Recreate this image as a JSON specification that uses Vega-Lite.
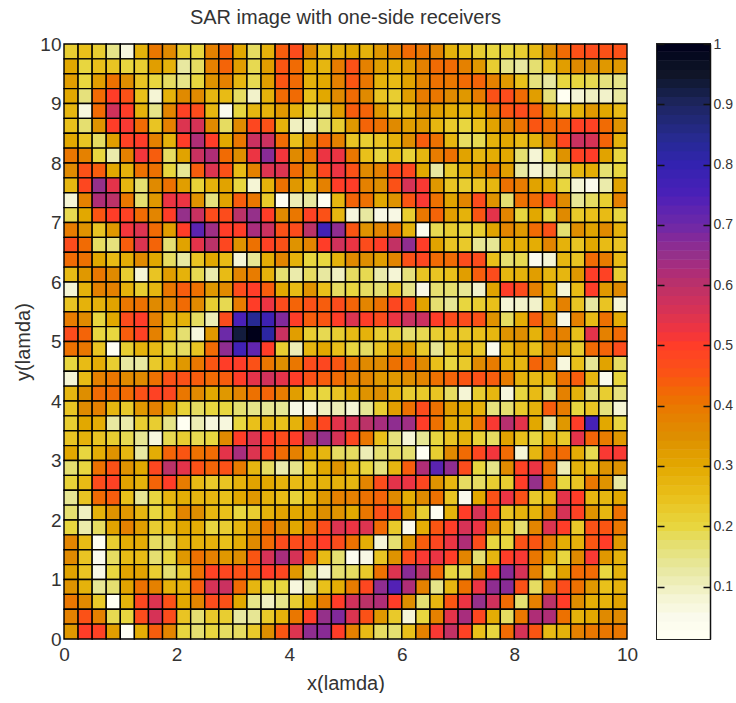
{"$schema":"https://vega.github.io/schema/vega-lite/v6.json","background":"white","padding":{"left":13,"top":8,"right":0,"bottom":0},"spacing":30,"bounds":"flush","config":{"font":"Liberation Sans","view":{"stroke":null},"title":{"font":"Liberation Sans","fontSize":20,"fontWeight":"normal","color":"#333333"}},"hconcat":[{"title":{"text":"SAR image with one-side receivers","offset":7},"width":563,"height":595,"data":{"values":[
{"x":0.125,"y":9.875,"v":0.22},{"x":0.375,"y":9.875,"v":0.25},{"x":0.625,"y":9.875,"v":0.22},{"x":0.875,"y":9.875,"v":0.15},{"x":1.125,"y":9.875,"v":0.07},{"x":1.375,"y":9.875,"v":0.28},{"x":1.625,"y":9.875,"v":0.4},{"x":1.875,"y":9.875,"v":0.36},{"x":2.125,"y":9.875,"v":0.22},{"x":2.375,"y":9.875,"v":0.2},{"x":2.625,"y":9.875,"v":0.38},{"x":2.875,"y":9.875,"v":0.43},{"x":3.125,"y":9.875,"v":0.3},{"x":3.375,"y":9.875,"v":0.18},{"x":3.625,"y":9.875,"v":0.28},{"x":3.875,"y":9.875,"v":0.44},{"x":4.125,"y":9.875,"v":0.47},{"x":4.375,"y":9.875,"v":0.36},{"x":4.625,"y":9.875,"v":0.25},{"x":4.875,"y":9.875,"v":0.28},{"x":5.125,"y":9.875,"v":0.3},{"x":5.375,"y":9.875,"v":0.28},{"x":5.625,"y":9.875,"v":0.33},{"x":5.875,"y":9.875,"v":0.38},{"x":6.125,"y":9.875,"v":0.42},{"x":6.375,"y":9.875,"v":0.4},{"x":6.625,"y":9.875,"v":0.37},{"x":6.875,"y":9.875,"v":0.28},{"x":7.125,"y":9.875,"v":0.25},{"x":7.375,"y":9.875,"v":0.22},{"x":7.625,"y":9.875,"v":0.2},{"x":7.875,"y":9.875,"v":0.2},{"x":8.125,"y":9.875,"v":0.22},{"x":8.375,"y":9.875,"v":0.26},{"x":8.625,"y":9.875,"v":0.35},{"x":8.875,"y":9.875,"v":0.42},{"x":9.125,"y":9.875,"v":0.46},{"x":9.375,"y":9.875,"v":0.47},{"x":9.625,"y":9.875,"v":0.46},{"x":9.875,"y":9.875,"v":0.46},
{"x":0.125,"y":9.625,"v":0.3},{"x":0.375,"y":9.625,"v":0.2},{"x":0.625,"y":9.625,"v":0.25},{"x":0.875,"y":9.625,"v":0.24},{"x":1.125,"y":9.625,"v":0.2},{"x":1.375,"y":9.625,"v":0.22},{"x":1.625,"y":9.625,"v":0.32},{"x":1.875,"y":9.625,"v":0.28},{"x":2.125,"y":9.625,"v":0.13},{"x":2.375,"y":9.625,"v":0.18},{"x":2.625,"y":9.625,"v":0.38},{"x":2.875,"y":9.625,"v":0.43},{"x":3.125,"y":9.625,"v":0.32},{"x":3.375,"y":9.625,"v":0.19},{"x":3.625,"y":9.625,"v":0.32},{"x":3.875,"y":9.625,"v":0.45},{"x":4.125,"y":9.625,"v":0.42},{"x":4.375,"y":9.625,"v":0.3},{"x":4.625,"y":9.625,"v":0.27},{"x":4.875,"y":9.625,"v":0.39},{"x":5.125,"y":9.625,"v":0.46},{"x":5.375,"y":9.625,"v":0.38},{"x":5.625,"y":9.625,"v":0.32},{"x":5.875,"y":9.625,"v":0.28},{"x":6.125,"y":9.625,"v":0.32},{"x":6.375,"y":9.625,"v":0.38},{"x":6.625,"y":9.625,"v":0.42},{"x":6.875,"y":9.625,"v":0.42},{"x":7.125,"y":9.625,"v":0.38},{"x":7.375,"y":9.625,"v":0.33},{"x":7.625,"y":9.625,"v":0.22},{"x":7.875,"y":9.625,"v":0.15},{"x":8.125,"y":9.625,"v":0.13},{"x":8.375,"y":9.625,"v":0.17},{"x":8.625,"y":9.625,"v":0.24},{"x":8.875,"y":9.625,"v":0.32},{"x":9.125,"y":9.625,"v":0.36},{"x":9.375,"y":9.625,"v":0.35},{"x":9.625,"y":9.625,"v":0.33},{"x":9.875,"y":9.625,"v":0.33},
{"x":0.125,"y":9.375,"v":0.32},{"x":0.375,"y":9.375,"v":0.2},{"x":0.625,"y":9.375,"v":0.32},{"x":0.875,"y":9.375,"v":0.41},{"x":1.125,"y":9.375,"v":0.35},{"x":1.375,"y":9.375,"v":0.24},{"x":1.625,"y":9.375,"v":0.2},{"x":1.875,"y":9.375,"v":0.18},{"x":2.125,"y":9.375,"v":0.15},{"x":2.375,"y":9.375,"v":0.2},{"x":2.625,"y":9.375,"v":0.34},{"x":2.875,"y":9.375,"v":0.38},{"x":3.125,"y":9.375,"v":0.27},{"x":3.375,"y":9.375,"v":0.19},{"x":3.625,"y":9.375,"v":0.32},{"x":3.875,"y":9.375,"v":0.45},{"x":4.125,"y":9.375,"v":0.42},{"x":4.375,"y":9.375,"v":0.28},{"x":4.625,"y":9.375,"v":0.3},{"x":4.875,"y":9.375,"v":0.38},{"x":5.125,"y":9.375,"v":0.45},{"x":5.375,"y":9.375,"v":0.4},{"x":5.625,"y":9.375,"v":0.28},{"x":5.875,"y":9.375,"v":0.26},{"x":6.125,"y":9.375,"v":0.31},{"x":6.375,"y":9.375,"v":0.37},{"x":6.625,"y":9.375,"v":0.41},{"x":6.875,"y":9.375,"v":0.4},{"x":7.125,"y":9.375,"v":0.42},{"x":7.375,"y":9.375,"v":0.43},{"x":7.625,"y":9.375,"v":0.38},{"x":7.875,"y":9.375,"v":0.33},{"x":8.125,"y":9.375,"v":0.25},{"x":8.375,"y":9.375,"v":0.16},{"x":8.625,"y":9.375,"v":0.13},{"x":8.875,"y":9.375,"v":0.2},{"x":9.125,"y":9.375,"v":0.2},{"x":9.375,"y":9.375,"v":0.19},{"x":9.625,"y":9.375,"v":0.16},{"x":9.875,"y":9.375,"v":0.15},
{"x":0.125,"y":9.125,"v":0.3},{"x":0.375,"y":9.125,"v":0.16},{"x":0.625,"y":9.125,"v":0.42},{"x":0.875,"y":9.125,"v":0.5},{"x":1.125,"y":9.125,"v":0.46},{"x":1.375,"y":9.125,"v":0.25},{"x":1.625,"y":9.125,"v":0.08},{"x":1.875,"y":9.125,"v":0.28},{"x":2.125,"y":9.125,"v":0.36},{"x":2.375,"y":9.125,"v":0.36},{"x":2.625,"y":9.125,"v":0.27},{"x":2.875,"y":9.125,"v":0.26},{"x":3.125,"y":9.125,"v":0.18},{"x":3.375,"y":9.125,"v":0.09},{"x":3.625,"y":9.125,"v":0.28},{"x":3.875,"y":9.125,"v":0.42},{"x":4.125,"y":9.125,"v":0.42},{"x":4.375,"y":9.125,"v":0.25},{"x":4.625,"y":9.125,"v":0.3},{"x":4.875,"y":9.125,"v":0.36},{"x":5.125,"y":9.125,"v":0.42},{"x":5.375,"y":9.125,"v":0.36},{"x":5.625,"y":9.125,"v":0.24},{"x":5.875,"y":9.125,"v":0.22},{"x":6.125,"y":9.125,"v":0.32},{"x":6.375,"y":9.125,"v":0.39},{"x":6.625,"y":9.125,"v":0.4},{"x":6.875,"y":9.125,"v":0.36},{"x":7.125,"y":9.125,"v":0.33},{"x":7.375,"y":9.125,"v":0.39},{"x":7.625,"y":9.125,"v":0.46},{"x":7.875,"y":9.125,"v":0.47},{"x":8.125,"y":9.125,"v":0.42},{"x":8.375,"y":9.125,"v":0.32},{"x":8.625,"y":9.125,"v":0.16},{"x":8.875,"y":9.125,"v":0.02},{"x":9.125,"y":9.125,"v":0.08},{"x":9.375,"y":9.125,"v":0.1},{"x":9.625,"y":9.125,"v":0.09},{"x":9.875,"y":9.125,"v":0.13},
{"x":0.125,"y":8.875,"v":0.27},{"x":0.375,"y":8.875,"v":0.07},{"x":0.625,"y":8.875,"v":0.42},{"x":0.875,"y":8.875,"v":0.57},{"x":1.125,"y":8.875,"v":0.5},{"x":1.375,"y":8.875,"v":0.28},{"x":1.625,"y":8.875,"v":0.15},{"x":1.875,"y":8.875,"v":0.37},{"x":2.125,"y":8.875,"v":0.49},{"x":2.375,"y":8.875,"v":0.47},{"x":2.625,"y":8.875,"v":0.27},{"x":2.875,"y":8.875,"v":0.05},{"x":3.125,"y":8.875,"v":0.2},{"x":3.375,"y":8.875,"v":0.27},{"x":3.625,"y":8.875,"v":0.28},{"x":3.875,"y":8.875,"v":0.33},{"x":4.125,"y":8.875,"v":0.28},{"x":4.375,"y":8.875,"v":0.2},{"x":4.625,"y":8.875,"v":0.17},{"x":4.875,"y":8.875,"v":0.32},{"x":5.125,"y":8.875,"v":0.44},{"x":5.375,"y":8.875,"v":0.43},{"x":5.625,"y":8.875,"v":0.33},{"x":5.875,"y":8.875,"v":0.22},{"x":6.125,"y":8.875,"v":0.26},{"x":6.375,"y":8.875,"v":0.35},{"x":6.625,"y":8.875,"v":0.32},{"x":6.875,"y":8.875,"v":0.29},{"x":7.125,"y":8.875,"v":0.27},{"x":7.375,"y":8.875,"v":0.3},{"x":7.625,"y":8.875,"v":0.38},{"x":7.875,"y":8.875,"v":0.45},{"x":8.125,"y":8.875,"v":0.47},{"x":8.375,"y":8.875,"v":0.44},{"x":8.625,"y":8.875,"v":0.32},{"x":8.875,"y":8.875,"v":0.24},{"x":9.125,"y":8.875,"v":0.28},{"x":9.375,"y":8.875,"v":0.33},{"x":9.625,"y":8.875,"v":0.3},{"x":9.875,"y":8.875,"v":0.26},
{"x":0.125,"y":8.625,"v":0.25},{"x":0.375,"y":8.625,"v":0.17},{"x":0.625,"y":8.625,"v":0.34},{"x":0.875,"y":8.625,"v":0.5},{"x":1.125,"y":8.625,"v":0.51},{"x":1.375,"y":8.625,"v":0.42},{"x":1.625,"y":8.625,"v":0.24},{"x":1.875,"y":8.625,"v":0.38},{"x":2.125,"y":8.625,"v":0.55},{"x":2.375,"y":8.625,"v":0.56},{"x":2.625,"y":8.625,"v":0.36},{"x":2.875,"y":8.625,"v":0.18},{"x":3.125,"y":8.625,"v":0.36},{"x":3.375,"y":8.625,"v":0.48},{"x":3.625,"y":8.625,"v":0.46},{"x":3.875,"y":8.625,"v":0.28},{"x":4.125,"y":8.625,"v":0.1},{"x":4.375,"y":8.625,"v":0.1},{"x":4.625,"y":8.625,"v":0.17},{"x":4.875,"y":8.625,"v":0.22},{"x":5.125,"y":8.625,"v":0.33},{"x":5.375,"y":8.625,"v":0.43},{"x":5.625,"y":8.625,"v":0.41},{"x":5.875,"y":8.625,"v":0.36},{"x":6.125,"y":8.625,"v":0.32},{"x":6.375,"y":8.625,"v":0.33},{"x":6.625,"y":8.625,"v":0.27},{"x":6.875,"y":8.625,"v":0.23},{"x":7.125,"y":8.625,"v":0.2},{"x":7.375,"y":8.625,"v":0.25},{"x":7.625,"y":8.625,"v":0.31},{"x":7.875,"y":8.625,"v":0.36},{"x":8.125,"y":8.625,"v":0.41},{"x":8.375,"y":8.625,"v":0.45},{"x":8.625,"y":8.625,"v":0.42},{"x":8.875,"y":8.625,"v":0.43},{"x":9.125,"y":8.625,"v":0.49},{"x":9.375,"y":8.625,"v":0.49},{"x":9.625,"y":8.625,"v":0.42},{"x":9.875,"y":8.625,"v":0.34},
{"x":0.125,"y":8.375,"v":0.3},{"x":0.375,"y":8.375,"v":0.24},{"x":0.625,"y":8.375,"v":0.18},{"x":0.875,"y":8.375,"v":0.32},{"x":1.125,"y":8.375,"v":0.49},{"x":1.375,"y":8.375,"v":0.5},{"x":1.625,"y":8.375,"v":0.38},{"x":1.875,"y":8.375,"v":0.28},{"x":2.125,"y":8.375,"v":0.5},{"x":2.375,"y":8.375,"v":0.62},{"x":2.625,"y":8.375,"v":0.5},{"x":2.875,"y":8.375,"v":0.3},{"x":3.125,"y":8.375,"v":0.4},{"x":3.375,"y":8.375,"v":0.58},{"x":3.625,"y":8.375,"v":0.58},{"x":3.875,"y":8.375,"v":0.42},{"x":4.125,"y":8.375,"v":0.25},{"x":4.375,"y":8.375,"v":0.34},{"x":4.625,"y":8.375,"v":0.43},{"x":4.875,"y":8.375,"v":0.38},{"x":5.125,"y":8.375,"v":0.24},{"x":5.375,"y":8.375,"v":0.22},{"x":5.625,"y":8.375,"v":0.24},{"x":5.875,"y":8.375,"v":0.28},{"x":6.125,"y":8.375,"v":0.35},{"x":6.375,"y":8.375,"v":0.44},{"x":6.625,"y":8.375,"v":0.41},{"x":6.875,"y":8.375,"v":0.27},{"x":7.125,"y":8.375,"v":0.18},{"x":7.375,"y":8.375,"v":0.19},{"x":7.625,"y":8.375,"v":0.28},{"x":7.875,"y":8.375,"v":0.3},{"x":8.125,"y":8.375,"v":0.26},{"x":8.375,"y":8.375,"v":0.28},{"x":8.625,"y":8.375,"v":0.36},{"x":8.875,"y":8.375,"v":0.48},{"x":9.125,"y":8.375,"v":0.58},{"x":9.375,"y":8.375,"v":0.56},{"x":9.625,"y":8.375,"v":0.43},{"x":9.875,"y":8.375,"v":0.28},
{"x":0.125,"y":8.125,"v":0.4},{"x":0.375,"y":8.125,"v":0.38},{"x":0.625,"y":8.125,"v":0.2},{"x":0.875,"y":8.125,"v":0.12},{"x":1.125,"y":8.125,"v":0.38},{"x":1.375,"y":8.125,"v":0.52},{"x":1.625,"y":8.125,"v":0.44},{"x":1.875,"y":8.125,"v":0.18},{"x":2.125,"y":8.125,"v":0.31},{"x":2.375,"y":8.125,"v":0.58},{"x":2.625,"y":8.125,"v":0.62},{"x":2.875,"y":8.125,"v":0.42},{"x":3.125,"y":8.125,"v":0.35},{"x":3.375,"y":8.125,"v":0.53},{"x":3.625,"y":8.125,"v":0.67},{"x":3.875,"y":8.125,"v":0.52},{"x":4.125,"y":8.125,"v":0.36},{"x":4.375,"y":8.125,"v":0.4},{"x":4.625,"y":8.125,"v":0.53},{"x":4.875,"y":8.125,"v":0.53},{"x":5.125,"y":8.125,"v":0.4},{"x":5.375,"y":8.125,"v":0.25},{"x":5.625,"y":8.125,"v":0.2},{"x":5.875,"y":8.125,"v":0.25},{"x":6.125,"y":8.125,"v":0.21},{"x":6.375,"y":8.125,"v":0.27},{"x":6.625,"y":8.125,"v":0.39},{"x":6.875,"y":8.125,"v":0.41},{"x":7.125,"y":8.125,"v":0.31},{"x":7.375,"y":8.125,"v":0.27},{"x":7.625,"y":8.125,"v":0.29},{"x":7.875,"y":8.125,"v":0.3},{"x":8.125,"y":8.125,"v":0.17},{"x":8.375,"y":8.125,"v":0.08},{"x":8.625,"y":8.125,"v":0.2},{"x":8.875,"y":8.125,"v":0.34},{"x":9.125,"y":8.125,"v":0.49},{"x":9.375,"y":8.125,"v":0.5},{"x":9.625,"y":8.125,"v":0.31},{"x":9.875,"y":8.125,"v":0.2},
{"x":0.125,"y":7.875,"v":0.36},{"x":0.375,"y":7.875,"v":0.46},{"x":0.625,"y":7.875,"v":0.44},{"x":0.875,"y":7.875,"v":0.3},{"x":1.125,"y":7.875,"v":0.28},{"x":1.375,"y":7.875,"v":0.41},{"x":1.625,"y":7.875,"v":0.41},{"x":1.875,"y":7.875,"v":0.2},{"x":2.125,"y":7.875,"v":0.14},{"x":2.375,"y":7.875,"v":0.44},{"x":2.625,"y":7.875,"v":0.55},{"x":2.875,"y":7.875,"v":0.46},{"x":3.125,"y":7.875,"v":0.26},{"x":3.375,"y":7.875,"v":0.38},{"x":3.625,"y":7.875,"v":0.55},{"x":3.875,"y":7.875,"v":0.55},{"x":4.125,"y":7.875,"v":0.42},{"x":4.375,"y":7.875,"v":0.34},{"x":4.625,"y":7.875,"v":0.48},{"x":4.875,"y":7.875,"v":0.53},{"x":5.125,"y":7.875,"v":0.46},{"x":5.375,"y":7.875,"v":0.36},{"x":5.625,"y":7.875,"v":0.38},{"x":5.875,"y":7.875,"v":0.47},{"x":6.125,"y":7.875,"v":0.48},{"x":6.375,"y":7.875,"v":0.3},{"x":6.625,"y":7.875,"v":0.13},{"x":6.875,"y":7.875,"v":0.23},{"x":7.125,"y":7.875,"v":0.28},{"x":7.375,"y":7.875,"v":0.33},{"x":7.625,"y":7.875,"v":0.39},{"x":7.875,"y":7.875,"v":0.32},{"x":8.125,"y":7.875,"v":0.13},{"x":8.375,"y":7.875,"v":0.08},{"x":8.625,"y":7.875,"v":0.12},{"x":8.875,"y":7.875,"v":0.16},{"x":9.125,"y":7.875,"v":0.27},{"x":9.375,"y":7.875,"v":0.29},{"x":9.625,"y":7.875,"v":0.17},{"x":9.875,"y":7.875,"v":0.2},
{"x":0.125,"y":7.625,"v":0.27},{"x":0.375,"y":7.625,"v":0.48},{"x":0.625,"y":7.625,"v":0.65},{"x":0.875,"y":7.625,"v":0.54},{"x":1.125,"y":7.625,"v":0.27},{"x":1.375,"y":7.625,"v":0.17},{"x":1.625,"y":7.625,"v":0.36},{"x":1.875,"y":7.625,"v":0.41},{"x":2.125,"y":7.625,"v":0.32},{"x":2.375,"y":7.625,"v":0.21},{"x":2.625,"y":7.625,"v":0.28},{"x":2.875,"y":7.625,"v":0.31},{"x":3.125,"y":7.625,"v":0.2},{"x":3.375,"y":7.625,"v":0.08},{"x":3.625,"y":7.625,"v":0.28},{"x":3.875,"y":7.625,"v":0.41},{"x":4.125,"y":7.625,"v":0.33},{"x":4.375,"y":7.625,"v":0.27},{"x":4.625,"y":7.625,"v":0.38},{"x":4.875,"y":7.625,"v":0.5},{"x":5.125,"y":7.625,"v":0.5},{"x":5.375,"y":7.625,"v":0.38},{"x":5.625,"y":7.625,"v":0.35},{"x":5.875,"y":7.625,"v":0.46},{"x":6.125,"y":7.625,"v":0.56},{"x":6.375,"y":7.625,"v":0.51},{"x":6.625,"y":7.625,"v":0.33},{"x":6.875,"y":7.625,"v":0.24},{"x":7.125,"y":7.625,"v":0.22},{"x":7.375,"y":7.625,"v":0.24},{"x":7.625,"y":7.625,"v":0.27},{"x":7.875,"y":7.625,"v":0.41},{"x":8.125,"y":7.625,"v":0.39},{"x":8.375,"y":7.625,"v":0.31},{"x":8.625,"y":7.625,"v":0.29},{"x":8.875,"y":7.625,"v":0.2},{"x":9.125,"y":7.625,"v":0.08},{"x":9.375,"y":7.625,"v":0.05},{"x":9.625,"y":7.625,"v":0.12},{"x":9.875,"y":7.625,"v":0.31},
{"x":0.125,"y":7.375,"v":0.08},{"x":0.375,"y":7.375,"v":0.38},{"x":0.625,"y":7.375,"v":0.62},{"x":0.875,"y":7.375,"v":0.6},{"x":1.125,"y":7.375,"v":0.4},{"x":1.375,"y":7.375,"v":0.17},{"x":1.625,"y":7.375,"v":0.33},{"x":1.875,"y":7.375,"v":0.53},{"x":2.125,"y":7.375,"v":0.53},{"x":2.375,"y":7.375,"v":0.34},{"x":2.625,"y":7.375,"v":0.16},{"x":2.875,"y":7.375,"v":0.31},{"x":3.125,"y":7.375,"v":0.44},{"x":3.375,"y":7.375,"v":0.4},{"x":3.625,"y":7.375,"v":0.23},{"x":3.875,"y":7.375,"v":0.03},{"x":4.125,"y":7.375,"v":0.11},{"x":4.375,"y":7.375,"v":0.13},{"x":4.625,"y":7.375,"v":0.03},{"x":4.875,"y":7.375,"v":0.27},{"x":5.125,"y":7.375,"v":0.43},{"x":5.375,"y":7.375,"v":0.41},{"x":5.625,"y":7.375,"v":0.3},{"x":5.875,"y":7.375,"v":0.34},{"x":6.125,"y":7.375,"v":0.45},{"x":6.375,"y":7.375,"v":0.51},{"x":6.625,"y":7.375,"v":0.41},{"x":6.875,"y":7.375,"v":0.31},{"x":7.125,"y":7.375,"v":0.37},{"x":7.375,"y":7.375,"v":0.47},{"x":7.625,"y":7.375,"v":0.34},{"x":7.875,"y":7.375,"v":0.17},{"x":8.125,"y":7.375,"v":0.41},{"x":8.375,"y":7.375,"v":0.42},{"x":8.625,"y":7.375,"v":0.47},{"x":8.875,"y":7.375,"v":0.36},{"x":9.125,"y":7.375,"v":0.14},{"x":9.375,"y":7.375,"v":0.18},{"x":9.625,"y":7.375,"v":0.22},{"x":9.875,"y":7.375,"v":0.38},
{"x":0.125,"y":7.125,"v":0.19},{"x":0.375,"y":7.125,"v":0.3},{"x":0.625,"y":7.125,"v":0.45},{"x":0.875,"y":7.125,"v":0.5},{"x":1.125,"y":7.125,"v":0.49},{"x":1.375,"y":7.125,"v":0.42},{"x":1.625,"y":7.125,"v":0.37},{"x":1.875,"y":7.125,"v":0.5},{"x":2.125,"y":7.125,"v":0.65},{"x":2.375,"y":7.125,"v":0.58},{"x":2.625,"y":7.125,"v":0.47},{"x":2.875,"y":7.125,"v":0.47},{"x":3.125,"y":7.125,"v":0.6},{"x":3.375,"y":7.125,"v":0.65},{"x":3.625,"y":7.125,"v":0.5},{"x":3.875,"y":7.125,"v":0.36},{"x":4.125,"y":7.125,"v":0.4},{"x":4.375,"y":7.125,"v":0.49},{"x":4.625,"y":7.125,"v":0.46},{"x":4.875,"y":7.125,"v":0.27},{"x":5.125,"y":7.125,"v":0.07},{"x":5.375,"y":7.125,"v":0.13},{"x":5.625,"y":7.125,"v":0.06},{"x":5.875,"y":7.125,"v":0.06},{"x":6.125,"y":7.125,"v":0.22},{"x":6.375,"y":7.125,"v":0.4},{"x":6.625,"y":7.125,"v":0.43},{"x":6.875,"y":7.125,"v":0.32},{"x":7.125,"y":7.125,"v":0.28},{"x":7.375,"y":7.125,"v":0.45},{"x":7.625,"y":7.125,"v":0.54},{"x":7.875,"y":7.125,"v":0.37},{"x":8.125,"y":7.125,"v":0.2},{"x":8.375,"y":7.125,"v":0.3},{"x":8.625,"y":7.125,"v":0.2},{"x":8.875,"y":7.125,"v":0.36},{"x":9.125,"y":7.125,"v":0.23},{"x":9.375,"y":7.125,"v":0.25},{"x":9.625,"y":7.125,"v":0.26},{"x":9.875,"y":7.125,"v":0.2},
{"x":0.125,"y":6.875,"v":0.39},{"x":0.375,"y":6.875,"v":0.34},{"x":0.625,"y":6.875,"v":0.24},{"x":0.875,"y":6.875,"v":0.33},{"x":1.125,"y":6.875,"v":0.52},{"x":1.375,"y":6.875,"v":0.55},{"x":1.625,"y":6.875,"v":0.42},{"x":1.875,"y":6.875,"v":0.32},{"x":2.125,"y":6.875,"v":0.5},{"x":2.375,"y":6.875,"v":0.73},{"x":2.625,"y":6.875,"v":0.64},{"x":2.875,"y":6.875,"v":0.5},{"x":3.125,"y":6.875,"v":0.5},{"x":3.375,"y":6.875,"v":0.63},{"x":3.625,"y":6.875,"v":0.58},{"x":3.875,"y":6.875,"v":0.46},{"x":4.125,"y":6.875,"v":0.47},{"x":4.375,"y":6.875,"v":0.6},{"x":4.625,"y":6.875,"v":0.77},{"x":4.875,"y":6.875,"v":0.66},{"x":5.125,"y":6.875,"v":0.45},{"x":5.375,"y":6.875,"v":0.34},{"x":5.625,"y":6.875,"v":0.37},{"x":5.875,"y":6.875,"v":0.4},{"x":6.125,"y":6.875,"v":0.28},{"x":6.375,"y":6.875,"v":0.04},{"x":6.625,"y":6.875,"v":0.19},{"x":6.875,"y":6.875,"v":0.22},{"x":7.125,"y":6.875,"v":0.2},{"x":7.375,"y":6.875,"v":0.22},{"x":7.625,"y":6.875,"v":0.31},{"x":7.875,"y":6.875,"v":0.37},{"x":8.125,"y":6.875,"v":0.33},{"x":8.375,"y":6.875,"v":0.42},{"x":8.625,"y":6.875,"v":0.46},{"x":8.875,"y":6.875,"v":0.17},{"x":9.125,"y":6.875,"v":0.35},{"x":9.375,"y":6.875,"v":0.31},{"x":9.625,"y":6.875,"v":0.36},{"x":9.875,"y":6.875,"v":0.28},
{"x":0.125,"y":6.625,"v":0.47},{"x":0.375,"y":6.625,"v":0.42},{"x":0.625,"y":6.625,"v":0.18},{"x":0.875,"y":6.625,"v":0.16},{"x":1.125,"y":6.625,"v":0.44},{"x":1.375,"y":6.625,"v":0.55},{"x":1.625,"y":6.625,"v":0.43},{"x":1.875,"y":6.625,"v":0.17},{"x":2.125,"y":6.625,"v":0.31},{"x":2.375,"y":6.625,"v":0.54},{"x":2.625,"y":6.625,"v":0.6},{"x":2.875,"y":6.625,"v":0.48},{"x":3.125,"y":6.625,"v":0.34},{"x":3.375,"y":6.625,"v":0.41},{"x":3.625,"y":6.625,"v":0.49},{"x":3.875,"y":6.625,"v":0.46},{"x":4.125,"y":6.625,"v":0.34},{"x":4.375,"y":6.625,"v":0.37},{"x":4.625,"y":6.625,"v":0.5},{"x":4.875,"y":6.625,"v":0.57},{"x":5.125,"y":6.625,"v":0.53},{"x":5.375,"y":6.625,"v":0.47},{"x":5.625,"y":6.625,"v":0.5},{"x":5.875,"y":6.625,"v":0.59},{"x":6.125,"y":6.625,"v":0.66},{"x":6.375,"y":6.625,"v":0.5},{"x":6.625,"y":6.625,"v":0.31},{"x":6.875,"y":6.625,"v":0.24},{"x":7.125,"y":6.625,"v":0.23},{"x":7.375,"y":6.625,"v":0.14},{"x":7.625,"y":6.625,"v":0.14},{"x":7.875,"y":6.625,"v":0.28},{"x":8.125,"y":6.625,"v":0.29},{"x":8.375,"y":6.625,"v":0.29},{"x":8.625,"y":6.625,"v":0.37},{"x":8.875,"y":6.625,"v":0.28},{"x":9.125,"y":6.625,"v":0.24},{"x":9.375,"y":6.625,"v":0.3},{"x":9.625,"y":6.625,"v":0.26},{"x":9.875,"y":6.625,"v":0.24},
{"x":0.125,"y":6.375,"v":0.42},{"x":0.375,"y":6.375,"v":0.41},{"x":0.625,"y":6.375,"v":0.3},{"x":0.875,"y":6.375,"v":0.26},{"x":1.125,"y":6.375,"v":0.29},{"x":1.375,"y":6.375,"v":0.36},{"x":1.625,"y":6.375,"v":0.3},{"x":1.875,"y":6.375,"v":0.18},{"x":2.125,"y":6.375,"v":0.13},{"x":2.375,"y":6.375,"v":0.24},{"x":2.625,"y":6.375,"v":0.3},{"x":2.875,"y":6.375,"v":0.26},{"x":3.125,"y":6.375,"v":0.08},{"x":3.375,"y":6.375,"v":0.14},{"x":3.625,"y":6.375,"v":0.29},{"x":3.875,"y":6.375,"v":0.37},{"x":4.125,"y":6.375,"v":0.28},{"x":4.375,"y":6.375,"v":0.2},{"x":4.625,"y":6.375,"v":0.2},{"x":4.875,"y":6.375,"v":0.28},{"x":5.125,"y":6.375,"v":0.36},{"x":5.375,"y":6.375,"v":0.35},{"x":5.625,"y":6.375,"v":0.32},{"x":5.875,"y":6.375,"v":0.37},{"x":6.125,"y":6.375,"v":0.46},{"x":6.375,"y":6.375,"v":0.48},{"x":6.625,"y":6.375,"v":0.42},{"x":6.875,"y":6.375,"v":0.42},{"x":7.125,"y":6.375,"v":0.47},{"x":7.375,"y":6.375,"v":0.47},{"x":7.625,"y":6.375,"v":0.25},{"x":7.875,"y":6.375,"v":0.17},{"x":8.125,"y":6.375,"v":0.19},{"x":8.375,"y":6.375,"v":0.04},{"x":8.625,"y":6.375,"v":0.08},{"x":8.875,"y":6.375,"v":0.27},{"x":9.125,"y":6.375,"v":0.24},{"x":9.375,"y":6.375,"v":0.42},{"x":9.625,"y":6.375,"v":0.39},{"x":9.875,"y":6.375,"v":0.26},
{"x":0.125,"y":6.125,"v":0.26},{"x":0.375,"y":6.125,"v":0.33},{"x":0.625,"y":6.125,"v":0.4},{"x":0.875,"y":6.125,"v":0.36},{"x":1.125,"y":6.125,"v":0.22},{"x":1.375,"y":6.125,"v":0.08},{"x":1.625,"y":6.125,"v":0.24},{"x":1.875,"y":6.125,"v":0.32},{"x":2.125,"y":6.125,"v":0.28},{"x":2.375,"y":6.125,"v":0.19},{"x":2.625,"y":6.125,"v":0.12},{"x":2.875,"y":6.125,"v":0.26},{"x":3.125,"y":6.125,"v":0.37},{"x":3.375,"y":6.125,"v":0.39},{"x":3.625,"y":6.125,"v":0.28},{"x":3.875,"y":6.125,"v":0.17},{"x":4.125,"y":6.125,"v":0.12},{"x":4.375,"y":6.125,"v":0.18},{"x":4.625,"y":6.125,"v":0.13},{"x":4.875,"y":6.125,"v":0.1},{"x":5.125,"y":6.125,"v":0.18},{"x":5.375,"y":6.125,"v":0.19},{"x":5.625,"y":6.125,"v":0.12},{"x":5.875,"y":6.125,"v":0.08},{"x":6.125,"y":6.125,"v":0.16},{"x":6.375,"y":6.125,"v":0.24},{"x":6.625,"y":6.125,"v":0.24},{"x":6.875,"y":6.125,"v":0.25},{"x":7.125,"y":6.125,"v":0.32},{"x":7.375,"y":6.125,"v":0.44},{"x":7.625,"y":6.125,"v":0.47},{"x":7.875,"y":6.125,"v":0.27},{"x":8.125,"y":6.125,"v":0.28},{"x":8.375,"y":6.125,"v":0.32},{"x":8.625,"y":6.125,"v":0.27},{"x":8.875,"y":6.125,"v":0.27},{"x":9.125,"y":6.125,"v":0.33},{"x":9.375,"y":6.125,"v":0.5},{"x":9.625,"y":6.125,"v":0.49},{"x":9.875,"y":6.125,"v":0.22},
{"x":0.125,"y":5.875,"v":0.08},{"x":0.375,"y":5.875,"v":0.28},{"x":0.625,"y":5.875,"v":0.38},{"x":0.875,"y":5.875,"v":0.38},{"x":1.125,"y":5.875,"v":0.28},{"x":1.375,"y":5.875,"v":0.22},{"x":1.625,"y":5.875,"v":0.27},{"x":1.875,"y":5.875,"v":0.4},{"x":2.125,"y":5.875,"v":0.44},{"x":2.375,"y":5.875,"v":0.41},{"x":2.625,"y":5.875,"v":0.33},{"x":2.875,"y":5.875,"v":0.36},{"x":3.125,"y":5.875,"v":0.47},{"x":3.375,"y":5.875,"v":0.5},{"x":3.625,"y":5.875,"v":0.44},{"x":3.875,"y":5.875,"v":0.3},{"x":4.125,"y":5.875,"v":0.26},{"x":4.375,"y":5.875,"v":0.34},{"x":4.625,"y":5.875,"v":0.25},{"x":4.875,"y":5.875,"v":0.18},{"x":5.125,"y":5.875,"v":0.2},{"x":5.375,"y":5.875,"v":0.18},{"x":5.625,"y":5.875,"v":0.17},{"x":5.875,"y":5.875,"v":0.23},{"x":6.125,"y":5.875,"v":0.15},{"x":6.375,"y":5.875,"v":0.06},{"x":6.625,"y":5.875,"v":0.17},{"x":6.875,"y":5.875,"v":0.17},{"x":7.125,"y":5.875,"v":0.14},{"x":7.375,"y":5.875,"v":0.09},{"x":7.625,"y":5.875,"v":0.31},{"x":7.875,"y":5.875,"v":0.5},{"x":8.125,"y":5.875,"v":0.47},{"x":8.375,"y":5.875,"v":0.38},{"x":8.625,"y":5.875,"v":0.29},{"x":8.875,"y":5.875,"v":0.08},{"x":9.125,"y":5.875,"v":0.26},{"x":9.375,"y":5.875,"v":0.5},{"x":9.625,"y":5.875,"v":0.33},{"x":9.875,"y":5.875,"v":0.36},
{"x":0.125,"y":5.625,"v":0.24},{"x":0.375,"y":5.625,"v":0.28},{"x":0.625,"y":5.625,"v":0.28},{"x":0.875,"y":5.625,"v":0.31},{"x":1.125,"y":5.625,"v":0.4},{"x":1.375,"y":5.625,"v":0.41},{"x":1.625,"y":5.625,"v":0.36},{"x":1.875,"y":5.625,"v":0.37},{"x":2.125,"y":5.625,"v":0.42},{"x":2.375,"y":5.625,"v":0.36},{"x":2.625,"y":5.625,"v":0.22},{"x":2.875,"y":5.625,"v":0.19},{"x":3.125,"y":5.625,"v":0.39},{"x":3.375,"y":5.625,"v":0.5},{"x":3.625,"y":5.625,"v":0.53},{"x":3.875,"y":5.625,"v":0.47},{"x":4.125,"y":5.625,"v":0.43},{"x":4.375,"y":5.625,"v":0.46},{"x":4.625,"y":5.625,"v":0.44},{"x":4.875,"y":5.625,"v":0.47},{"x":5.125,"y":5.625,"v":0.43},{"x":5.375,"y":5.625,"v":0.37},{"x":5.625,"y":5.625,"v":0.41},{"x":5.875,"y":5.625,"v":0.48},{"x":6.125,"y":5.625,"v":0.46},{"x":6.375,"y":5.625,"v":0.31},{"x":6.625,"y":5.625,"v":0.17},{"x":6.875,"y":5.625,"v":0.14},{"x":7.125,"y":5.625,"v":0.2},{"x":7.375,"y":5.625,"v":0.22},{"x":7.625,"y":5.625,"v":0.25},{"x":7.875,"y":5.625,"v":0.08},{"x":8.125,"y":5.625,"v":0.09},{"x":8.375,"y":5.625,"v":0.09},{"x":8.625,"y":5.625,"v":0.27},{"x":8.875,"y":5.625,"v":0.38},{"x":9.125,"y":5.625,"v":0.24},{"x":9.375,"y":5.625,"v":0.13},{"x":9.625,"y":5.625,"v":0.24},{"x":9.875,"y":5.625,"v":0.08},
{"x":0.125,"y":5.375,"v":0.39},{"x":0.375,"y":5.375,"v":0.36},{"x":0.625,"y":5.375,"v":0.2},{"x":0.875,"y":5.375,"v":0.3},{"x":1.125,"y":5.375,"v":0.47},{"x":1.375,"y":5.375,"v":0.5},{"x":1.625,"y":5.375,"v":0.38},{"x":1.875,"y":5.375,"v":0.27},{"x":2.125,"y":5.375,"v":0.28},{"x":2.375,"y":5.375,"v":0.18},{"x":2.625,"y":5.375,"v":0.11},{"x":2.875,"y":5.375,"v":0.47},{"x":3.125,"y":5.375,"v":0.75},{"x":3.375,"y":5.375,"v":0.84},{"x":3.625,"y":5.375,"v":0.78},{"x":3.875,"y":5.375,"v":0.68},{"x":4.125,"y":5.375,"v":0.5},{"x":4.375,"y":5.375,"v":0.44},{"x":4.625,"y":5.375,"v":0.45},{"x":4.875,"y":5.375,"v":0.5},{"x":5.125,"y":5.375,"v":0.55},{"x":5.375,"y":5.375,"v":0.5},{"x":5.625,"y":5.375,"v":0.47},{"x":5.875,"y":5.375,"v":0.53},{"x":6.125,"y":5.375,"v":0.58},{"x":6.375,"y":5.375,"v":0.58},{"x":6.625,"y":5.375,"v":0.5},{"x":6.875,"y":5.375,"v":0.47},{"x":7.125,"y":5.375,"v":0.47},{"x":7.375,"y":5.375,"v":0.46},{"x":7.625,"y":5.375,"v":0.34},{"x":7.875,"y":5.375,"v":0.18},{"x":8.125,"y":5.375,"v":0.29},{"x":8.375,"y":5.375,"v":0.44},{"x":8.625,"y":5.375,"v":0.34},{"x":8.875,"y":5.375,"v":0.06},{"x":9.125,"y":5.375,"v":0.38},{"x":9.375,"y":5.375,"v":0.26},{"x":9.625,"y":5.375,"v":0.41},{"x":9.875,"y":5.375,"v":0.29},
{"x":0.125,"y":5.125,"v":0.47},{"x":0.375,"y":5.125,"v":0.43},{"x":0.625,"y":5.125,"v":0.2},{"x":0.875,"y":5.125,"v":0.2},{"x":1.125,"y":5.125,"v":0.44},{"x":1.375,"y":5.125,"v":0.49},{"x":1.625,"y":5.125,"v":0.38},{"x":1.875,"y":5.125,"v":0.24},{"x":2.125,"y":5.125,"v":0.17},{"x":2.375,"y":5.125,"v":0.07},{"x":2.625,"y":5.125,"v":0.33},{"x":2.875,"y":5.125,"v":0.7},{"x":3.125,"y":5.125,"v":0.93},{"x":3.375,"y":5.125,"v":1},{"x":3.625,"y":5.125,"v":0.82},{"x":3.875,"y":5.125,"v":0.58},{"x":4.125,"y":5.125,"v":0.32},{"x":4.375,"y":5.125,"v":0.22},{"x":4.625,"y":5.125,"v":0.19},{"x":4.875,"y":5.125,"v":0.22},{"x":5.125,"y":5.125,"v":0.26},{"x":5.375,"y":5.125,"v":0.28},{"x":5.625,"y":5.125,"v":0.22},{"x":5.875,"y":5.125,"v":0.21},{"x":6.125,"y":5.125,"v":0.17},{"x":6.375,"y":5.125,"v":0.19},{"x":6.625,"y":5.125,"v":0.22},{"x":6.875,"y":5.125,"v":0.24},{"x":7.125,"y":5.125,"v":0.23},{"x":7.375,"y":5.125,"v":0.25},{"x":7.625,"y":5.125,"v":0.27},{"x":7.875,"y":5.125,"v":0.34},{"x":8.125,"y":5.125,"v":0.35},{"x":8.375,"y":5.125,"v":0.28},{"x":8.625,"y":5.125,"v":0.4},{"x":8.875,"y":5.125,"v":0.38},{"x":9.125,"y":5.125,"v":0.25},{"x":9.375,"y":5.125,"v":0.54},{"x":9.625,"y":5.125,"v":0.38},{"x":9.875,"y":5.125,"v":0.42},
{"x":0.125,"y":4.875,"v":0.41},{"x":0.375,"y":4.875,"v":0.4},{"x":0.625,"y":4.875,"v":0.24},{"x":0.875,"y":4.875,"v":0.01},{"x":1.125,"y":4.875,"v":0.22},{"x":1.375,"y":4.875,"v":0.28},{"x":1.625,"y":4.875,"v":0.26},{"x":1.875,"y":4.875,"v":0.2},{"x":2.125,"y":4.875,"v":0.18},{"x":2.375,"y":4.875,"v":0.24},{"x":2.625,"y":4.875,"v":0.42},{"x":2.875,"y":4.875,"v":0.66},{"x":3.125,"y":4.875,"v":0.77},{"x":3.375,"y":4.875,"v":0.72},{"x":3.625,"y":4.875,"v":0.5},{"x":3.875,"y":4.875,"v":0.22},{"x":4.125,"y":4.875,"v":0.11},{"x":4.375,"y":4.875,"v":0.27},{"x":4.625,"y":4.875,"v":0.3},{"x":4.875,"y":4.875,"v":0.25},{"x":5.125,"y":4.875,"v":0.2},{"x":5.375,"y":4.875,"v":0.18},{"x":5.625,"y":4.875,"v":0.24},{"x":5.875,"y":4.875,"v":0.32},{"x":6.125,"y":4.875,"v":0.32},{"x":6.375,"y":4.875,"v":0.23},{"x":6.625,"y":4.875,"v":0.14},{"x":6.875,"y":4.875,"v":0.22},{"x":7.125,"y":4.875,"v":0.27},{"x":7.375,"y":4.875,"v":0.23},{"x":7.625,"y":4.875,"v":0.05},{"x":7.875,"y":4.875,"v":0.26},{"x":8.125,"y":4.875,"v":0.32},{"x":8.375,"y":4.875,"v":0.25},{"x":8.625,"y":4.875,"v":0.36},{"x":8.875,"y":4.875,"v":0.33},{"x":9.125,"y":4.875,"v":0.22},{"x":9.375,"y":4.875,"v":0.42},{"x":9.625,"y":4.875,"v":0.43},{"x":9.875,"y":4.875,"v":0.47},
{"x":0.125,"y":4.625,"v":0.2},{"x":0.375,"y":4.625,"v":0.26},{"x":0.625,"y":4.625,"v":0.29},{"x":0.875,"y":4.625,"v":0.22},{"x":1.125,"y":4.625,"v":0.13},{"x":1.375,"y":4.625,"v":0.13},{"x":1.625,"y":4.625,"v":0.23},{"x":1.875,"y":4.625,"v":0.27},{"x":2.125,"y":4.625,"v":0.33},{"x":2.375,"y":4.625,"v":0.4},{"x":2.625,"y":4.625,"v":0.45},{"x":2.875,"y":4.625,"v":0.5},{"x":3.125,"y":4.625,"v":0.5},{"x":3.375,"y":4.625,"v":0.46},{"x":3.625,"y":4.625,"v":0.4},{"x":3.875,"y":4.625,"v":0.35},{"x":4.125,"y":4.625,"v":0.4},{"x":4.375,"y":4.625,"v":0.47},{"x":4.625,"y":4.625,"v":0.48},{"x":4.875,"y":4.625,"v":0.45},{"x":5.125,"y":4.625,"v":0.4},{"x":5.375,"y":4.625,"v":0.36},{"x":5.625,"y":4.625,"v":0.36},{"x":5.875,"y":4.625,"v":0.41},{"x":6.125,"y":4.625,"v":0.42},{"x":6.375,"y":4.625,"v":0.36},{"x":6.625,"y":4.625,"v":0.25},{"x":6.875,"y":4.625,"v":0.2},{"x":7.125,"y":4.625,"v":0.23},{"x":7.375,"y":4.625,"v":0.36},{"x":7.625,"y":4.625,"v":0.39},{"x":7.875,"y":4.625,"v":0.28},{"x":8.125,"y":4.625,"v":0.27},{"x":8.375,"y":4.625,"v":0.43},{"x":8.625,"y":4.625,"v":0.38},{"x":8.875,"y":4.625,"v":0.07},{"x":9.125,"y":4.625,"v":0.25},{"x":9.375,"y":4.625,"v":0.14},{"x":9.625,"y":4.625,"v":0.31},{"x":9.875,"y":4.625,"v":0.18},
{"x":0.125,"y":4.375,"v":0.08},{"x":0.375,"y":4.375,"v":0.26},{"x":0.625,"y":4.375,"v":0.38},{"x":0.875,"y":4.375,"v":0.4},{"x":1.125,"y":4.375,"v":0.36},{"x":1.375,"y":4.375,"v":0.36},{"x":1.625,"y":4.375,"v":0.41},{"x":1.875,"y":4.375,"v":0.46},{"x":2.125,"y":4.375,"v":0.46},{"x":2.375,"y":4.375,"v":0.44},{"x":2.625,"y":4.375,"v":0.42},{"x":2.875,"y":4.375,"v":0.44},{"x":3.125,"y":4.375,"v":0.5},{"x":3.375,"y":4.375,"v":0.54},{"x":3.625,"y":4.375,"v":0.57},{"x":3.875,"y":4.375,"v":0.54},{"x":4.125,"y":4.375,"v":0.5},{"x":4.375,"y":4.375,"v":0.46},{"x":4.625,"y":4.375,"v":0.44},{"x":4.875,"y":4.375,"v":0.42},{"x":5.125,"y":4.375,"v":0.38},{"x":5.375,"y":4.375,"v":0.37},{"x":5.625,"y":4.375,"v":0.33},{"x":5.875,"y":4.375,"v":0.33},{"x":6.125,"y":4.375,"v":0.35},{"x":6.375,"y":4.375,"v":0.37},{"x":6.625,"y":4.375,"v":0.41},{"x":6.875,"y":4.375,"v":0.43},{"x":7.125,"y":4.375,"v":0.45},{"x":7.375,"y":4.375,"v":0.46},{"x":7.625,"y":4.375,"v":0.44},{"x":7.875,"y":4.375,"v":0.39},{"x":8.125,"y":4.375,"v":0.28},{"x":8.375,"y":4.375,"v":0.26},{"x":8.625,"y":4.375,"v":0.28},{"x":8.875,"y":4.375,"v":0.41},{"x":9.125,"y":4.375,"v":0.44},{"x":9.375,"y":4.375,"v":0.27},{"x":9.625,"y":4.375,"v":0.05},{"x":9.875,"y":4.375,"v":0.2},
{"x":0.125,"y":4.125,"v":0.27},{"x":0.375,"y":4.125,"v":0.35},{"x":0.625,"y":4.125,"v":0.42},{"x":0.875,"y":4.125,"v":0.42},{"x":1.125,"y":4.125,"v":0.42},{"x":1.375,"y":4.125,"v":0.46},{"x":1.625,"y":4.125,"v":0.49},{"x":1.875,"y":4.125,"v":0.48},{"x":2.125,"y":4.125,"v":0.4},{"x":2.375,"y":4.125,"v":0.36},{"x":2.625,"y":4.125,"v":0.3},{"x":2.875,"y":4.125,"v":0.33},{"x":3.125,"y":4.125,"v":0.37},{"x":3.375,"y":4.125,"v":0.41},{"x":3.625,"y":4.125,"v":0.43},{"x":3.875,"y":4.125,"v":0.39},{"x":4.125,"y":4.125,"v":0.32},{"x":4.375,"y":4.125,"v":0.23},{"x":4.625,"y":4.125,"v":0.2},{"x":4.875,"y":4.125,"v":0.24},{"x":5.125,"y":4.125,"v":0.3},{"x":5.375,"y":4.125,"v":0.34},{"x":5.625,"y":4.125,"v":0.35},{"x":5.875,"y":4.125,"v":0.27},{"x":6.125,"y":4.125,"v":0.22},{"x":6.375,"y":4.125,"v":0.23},{"x":6.625,"y":4.125,"v":0.24},{"x":6.875,"y":4.125,"v":0.18},{"x":7.125,"y":4.125,"v":0.08},{"x":7.375,"y":4.125,"v":0.22},{"x":7.625,"y":4.125,"v":0.27},{"x":7.875,"y":4.125,"v":0.07},{"x":8.125,"y":4.125,"v":0.2},{"x":8.375,"y":4.125,"v":0.26},{"x":8.625,"y":4.125,"v":0.17},{"x":8.875,"y":4.125,"v":0.38},{"x":9.125,"y":4.125,"v":0.28},{"x":9.375,"y":4.125,"v":0.17},{"x":9.625,"y":4.125,"v":0.22},{"x":9.875,"y":4.125,"v":0.16},
{"x":0.125,"y":3.875,"v":0.24},{"x":0.375,"y":3.875,"v":0.36},{"x":0.625,"y":3.875,"v":0.38},{"x":0.875,"y":3.875,"v":0.27},{"x":1.125,"y":3.875,"v":0.23},{"x":1.375,"y":3.875,"v":0.33},{"x":1.625,"y":3.875,"v":0.38},{"x":1.875,"y":3.875,"v":0.31},{"x":2.125,"y":3.875,"v":0.21},{"x":2.375,"y":3.875,"v":0.18},{"x":2.625,"y":3.875,"v":0.2},{"x":2.875,"y":3.875,"v":0.2},{"x":3.125,"y":3.875,"v":0.17},{"x":3.375,"y":3.875,"v":0.15},{"x":3.625,"y":3.875,"v":0.14},{"x":3.875,"y":3.875,"v":0.14},{"x":4.125,"y":3.875,"v":0.06},{"x":4.375,"y":3.875,"v":0.06},{"x":4.625,"y":3.875,"v":0.1},{"x":4.875,"y":3.875,"v":0.11},{"x":5.125,"y":3.875,"v":0.08},{"x":5.375,"y":3.875,"v":0.14},{"x":5.625,"y":3.875,"v":0.22},{"x":5.875,"y":3.875,"v":0.32},{"x":6.125,"y":3.875,"v":0.41},{"x":6.375,"y":3.875,"v":0.47},{"x":6.625,"y":3.875,"v":0.41},{"x":6.875,"y":3.875,"v":0.32},{"x":7.125,"y":3.875,"v":0.3},{"x":7.375,"y":3.875,"v":0.28},{"x":7.625,"y":3.875,"v":0.16},{"x":7.875,"y":3.875,"v":0.17},{"x":8.125,"y":3.875,"v":0.23},{"x":8.375,"y":3.875,"v":0.28},{"x":8.625,"y":3.875,"v":0.44},{"x":8.875,"y":3.875,"v":0.39},{"x":9.125,"y":3.875,"v":0.2},{"x":9.375,"y":3.875,"v":0.24},{"x":9.625,"y":3.875,"v":0.16},{"x":9.875,"y":3.875,"v":0.08},
{"x":0.125,"y":3.625,"v":0.22},{"x":0.375,"y":3.625,"v":0.3},{"x":0.625,"y":3.625,"v":0.29},{"x":0.875,"y":3.625,"v":0.13},{"x":1.125,"y":3.625,"v":0.12},{"x":1.375,"y":3.625,"v":0.22},{"x":1.625,"y":3.625,"v":0.22},{"x":1.875,"y":3.625,"v":0.15},{"x":2.125,"y":3.625,"v":0.02},{"x":2.375,"y":3.625,"v":0.11},{"x":2.625,"y":3.625,"v":0.07},{"x":2.875,"y":3.625,"v":0.07},{"x":3.125,"y":3.625,"v":0.2},{"x":3.375,"y":3.625,"v":0.25},{"x":3.625,"y":3.625,"v":0.27},{"x":3.875,"y":3.625,"v":0.25},{"x":4.125,"y":3.625,"v":0.28},{"x":4.375,"y":3.625,"v":0.4},{"x":4.625,"y":3.625,"v":0.48},{"x":4.875,"y":3.625,"v":0.54},{"x":5.125,"y":3.625,"v":0.56},{"x":5.375,"y":3.625,"v":0.6},{"x":5.625,"y":3.625,"v":0.63},{"x":5.875,"y":3.625,"v":0.66},{"x":6.125,"y":3.625,"v":0.64},{"x":6.375,"y":3.625,"v":0.5},{"x":6.625,"y":3.625,"v":0.41},{"x":6.875,"y":3.625,"v":0.3},{"x":7.125,"y":3.625,"v":0.28},{"x":7.375,"y":3.625,"v":0.41},{"x":7.625,"y":3.625,"v":0.51},{"x":7.875,"y":3.625,"v":0.61},{"x":8.125,"y":3.625,"v":0.54},{"x":8.375,"y":3.625,"v":0.3},{"x":8.625,"y":3.625,"v":0.13},{"x":8.875,"y":3.625,"v":0.33},{"x":9.125,"y":3.625,"v":0.5},{"x":9.375,"y":3.625,"v":0.76},{"x":9.625,"y":3.625,"v":0.3},{"x":9.875,"y":3.625,"v":0.2},
{"x":0.125,"y":3.375,"v":0.24},{"x":0.375,"y":3.375,"v":0.28},{"x":0.625,"y":3.375,"v":0.24},{"x":0.875,"y":3.375,"v":0.22},{"x":1.125,"y":3.375,"v":0.19},{"x":1.375,"y":3.375,"v":0.14},{"x":1.625,"y":3.375,"v":0.07},{"x":1.875,"y":3.375,"v":0.19},{"x":2.125,"y":3.375,"v":0.22},{"x":2.375,"y":3.375,"v":0.19},{"x":2.625,"y":3.375,"v":0.2},{"x":2.875,"y":3.375,"v":0.36},{"x":3.125,"y":3.375,"v":0.5},{"x":3.375,"y":3.375,"v":0.55},{"x":3.625,"y":3.375,"v":0.5},{"x":3.875,"y":3.375,"v":0.47},{"x":4.125,"y":3.375,"v":0.5},{"x":4.375,"y":3.375,"v":0.6},{"x":4.625,"y":3.375,"v":0.65},{"x":4.875,"y":3.375,"v":0.56},{"x":5.125,"y":3.375,"v":0.48},{"x":5.375,"y":3.375,"v":0.4},{"x":5.625,"y":3.375,"v":0.25},{"x":5.875,"y":3.375,"v":0.16},{"x":6.125,"y":3.375,"v":0.08},{"x":6.375,"y":3.375,"v":0.14},{"x":6.625,"y":3.375,"v":0.2},{"x":6.875,"y":3.375,"v":0.24},{"x":7.125,"y":3.375,"v":0.28},{"x":7.375,"y":3.375,"v":0.21},{"x":7.625,"y":3.375,"v":0.18},{"x":7.875,"y":3.375,"v":0.31},{"x":8.125,"y":3.375,"v":0.25},{"x":8.375,"y":3.375,"v":0.2},{"x":8.625,"y":3.375,"v":0.28},{"x":8.875,"y":3.375,"v":0.23},{"x":9.125,"y":3.375,"v":0.54},{"x":9.375,"y":3.375,"v":0.43},{"x":9.625,"y":3.375,"v":0.39},{"x":9.875,"y":3.375,"v":0.33},
{"x":0.125,"y":3.125,"v":0.3},{"x":0.375,"y":3.125,"v":0.2},{"x":0.625,"y":3.125,"v":0.29},{"x":0.875,"y":3.125,"v":0.34},{"x":1.125,"y":3.125,"v":0.27},{"x":1.375,"y":3.125,"v":0.13},{"x":1.625,"y":3.125,"v":0.29},{"x":1.875,"y":3.125,"v":0.43},{"x":2.125,"y":3.125,"v":0.45},{"x":2.375,"y":3.125,"v":0.41},{"x":2.625,"y":3.125,"v":0.42},{"x":2.875,"y":3.125,"v":0.54},{"x":3.125,"y":3.125,"v":0.63},{"x":3.375,"y":3.125,"v":0.55},{"x":3.625,"y":3.125,"v":0.47},{"x":3.875,"y":3.125,"v":0.42},{"x":4.125,"y":3.125,"v":0.38},{"x":4.375,"y":3.125,"v":0.3},{"x":4.625,"y":3.125,"v":0.27},{"x":4.875,"y":3.125,"v":0.18},{"x":5.125,"y":3.125,"v":0.18},{"x":5.375,"y":3.125,"v":0.11},{"x":5.625,"y":3.125,"v":0.17},{"x":5.875,"y":3.125,"v":0.18},{"x":6.125,"y":3.125,"v":0.17},{"x":6.375,"y":3.125,"v":0.02},{"x":6.625,"y":3.125,"v":0.22},{"x":6.875,"y":3.125,"v":0.36},{"x":7.125,"y":3.125,"v":0.42},{"x":7.375,"y":3.125,"v":0.48},{"x":7.625,"y":3.125,"v":0.52},{"x":7.875,"y":3.125,"v":0.42},{"x":8.125,"y":3.125,"v":0.08},{"x":8.375,"y":3.125,"v":0.27},{"x":8.625,"y":3.125,"v":0.41},{"x":8.875,"y":3.125,"v":0.42},{"x":9.125,"y":3.125,"v":0.29},{"x":9.375,"y":3.125,"v":0.19},{"x":9.625,"y":3.125,"v":0.51},{"x":9.875,"y":3.125,"v":0.51},
{"x":0.125,"y":2.875,"v":0.17},{"x":0.375,"y":2.875,"v":0.2},{"x":0.625,"y":2.875,"v":0.41},{"x":0.875,"y":2.875,"v":0.46},{"x":1.125,"y":2.875,"v":0.34},{"x":1.375,"y":2.875,"v":0.3},{"x":1.625,"y":2.875,"v":0.48},{"x":1.875,"y":2.875,"v":0.6},{"x":2.125,"y":2.875,"v":0.54},{"x":2.375,"y":2.875,"v":0.46},{"x":2.625,"y":2.875,"v":0.43},{"x":2.875,"y":2.875,"v":0.46},{"x":3.125,"y":2.875,"v":0.39},{"x":3.375,"y":2.875,"v":0.27},{"x":3.625,"y":2.875,"v":0.18},{"x":3.875,"y":2.875,"v":0.12},{"x":4.125,"y":2.875,"v":0.15},{"x":4.375,"y":2.875,"v":0.23},{"x":4.625,"y":2.875,"v":0.3},{"x":4.875,"y":2.875,"v":0.34},{"x":5.125,"y":2.875,"v":0.27},{"x":5.375,"y":2.875,"v":0.2},{"x":5.625,"y":2.875,"v":0.16},{"x":5.875,"y":2.875,"v":0.27},{"x":6.125,"y":2.875,"v":0.44},{"x":6.375,"y":2.875,"v":0.62},{"x":6.625,"y":2.875,"v":0.73},{"x":6.875,"y":2.875,"v":0.66},{"x":7.125,"y":2.875,"v":0.47},{"x":7.375,"y":2.875,"v":0.2},{"x":7.625,"y":2.875,"v":0.15},{"x":7.875,"y":2.875,"v":0.36},{"x":8.125,"y":2.875,"v":0.49},{"x":8.375,"y":2.875,"v":0.53},{"x":8.625,"y":2.875,"v":0.41},{"x":8.875,"y":2.875,"v":0.11},{"x":9.125,"y":2.875,"v":0.28},{"x":9.375,"y":2.875,"v":0.25},{"x":9.625,"y":2.875,"v":0.34},{"x":9.875,"y":2.875,"v":0.34},
{"x":0.125,"y":2.625,"v":0.21},{"x":0.375,"y":2.625,"v":0.26},{"x":0.625,"y":2.625,"v":0.47},{"x":0.875,"y":2.625,"v":0.49},{"x":1.125,"y":2.625,"v":0.31},{"x":1.375,"y":2.625,"v":0.28},{"x":1.625,"y":2.625,"v":0.43},{"x":1.875,"y":2.625,"v":0.5},{"x":2.125,"y":2.625,"v":0.39},{"x":2.375,"y":2.625,"v":0.26},{"x":2.625,"y":2.625,"v":0.23},{"x":2.875,"y":2.625,"v":0.24},{"x":3.125,"y":2.625,"v":0.28},{"x":3.375,"y":2.625,"v":0.31},{"x":3.625,"y":2.625,"v":0.3},{"x":3.875,"y":2.625,"v":0.28},{"x":4.125,"y":2.625,"v":0.26},{"x":4.375,"y":2.625,"v":0.27},{"x":4.625,"y":2.625,"v":0.28},{"x":4.875,"y":2.625,"v":0.28},{"x":5.125,"y":2.625,"v":0.27},{"x":5.375,"y":2.625,"v":0.37},{"x":5.625,"y":2.625,"v":0.47},{"x":5.875,"y":2.625,"v":0.54},{"x":6.125,"y":2.625,"v":0.53},{"x":6.375,"y":2.625,"v":0.48},{"x":6.625,"y":2.625,"v":0.34},{"x":6.875,"y":2.625,"v":0.27},{"x":7.125,"y":2.625,"v":0.18},{"x":7.375,"y":2.625,"v":0.18},{"x":7.625,"y":2.625,"v":0.22},{"x":7.875,"y":2.625,"v":0.22},{"x":8.125,"y":2.625,"v":0.5},{"x":8.375,"y":2.625,"v":0.65},{"x":8.625,"y":2.625,"v":0.41},{"x":8.875,"y":2.625,"v":0.2},{"x":9.125,"y":2.625,"v":0.24},{"x":9.375,"y":2.625,"v":0.4},{"x":9.625,"y":2.625,"v":0.34},{"x":9.875,"y":2.625,"v":0.13},
{"x":0.125,"y":2.375,"v":0.14},{"x":0.375,"y":2.375,"v":0.24},{"x":0.625,"y":2.375,"v":0.42},{"x":0.875,"y":2.375,"v":0.44},{"x":1.125,"y":2.375,"v":0.25},{"x":1.375,"y":2.375,"v":0.14},{"x":1.625,"y":2.375,"v":0.2},{"x":1.875,"y":2.375,"v":0.27},{"x":2.125,"y":2.375,"v":0.29},{"x":2.375,"y":2.375,"v":0.27},{"x":2.625,"y":2.375,"v":0.27},{"x":2.875,"y":2.375,"v":0.25},{"x":3.125,"y":2.375,"v":0.3},{"x":3.375,"y":2.375,"v":0.33},{"x":3.625,"y":2.375,"v":0.28},{"x":3.875,"y":2.375,"v":0.26},{"x":4.125,"y":2.375,"v":0.21},{"x":4.375,"y":2.375,"v":0.27},{"x":4.625,"y":2.375,"v":0.33},{"x":4.875,"y":2.375,"v":0.38},{"x":5.125,"y":2.375,"v":0.38},{"x":5.375,"y":2.375,"v":0.41},{"x":5.625,"y":2.375,"v":0.43},{"x":5.875,"y":2.375,"v":0.36},{"x":6.125,"y":2.375,"v":0.29},{"x":6.375,"y":2.375,"v":0.36},{"x":6.625,"y":2.375,"v":0.41},{"x":6.875,"y":2.375,"v":0.24},{"x":7.125,"y":2.375,"v":0.05},{"x":7.375,"y":2.375,"v":0.3},{"x":7.625,"y":2.375,"v":0.46},{"x":7.875,"y":2.375,"v":0.53},{"x":8.125,"y":2.375,"v":0.46},{"x":8.375,"y":2.375,"v":0.23},{"x":8.625,"y":2.375,"v":0.27},{"x":8.875,"y":2.375,"v":0.54},{"x":9.125,"y":2.375,"v":0.5},{"x":9.375,"y":2.375,"v":0.27},{"x":9.625,"y":2.375,"v":0.27},{"x":9.875,"y":2.375,"v":0.3},
{"x":0.125,"y":2.125,"v":0.17},{"x":0.375,"y":2.125,"v":0.1},{"x":0.625,"y":2.125,"v":0.28},{"x":0.875,"y":2.125,"v":0.34},{"x":1.125,"y":2.125,"v":0.33},{"x":1.375,"y":2.125,"v":0.27},{"x":1.625,"y":2.125,"v":0.2},{"x":1.875,"y":2.125,"v":0.25},{"x":2.125,"y":2.125,"v":0.37},{"x":2.375,"y":2.125,"v":0.35},{"x":2.625,"y":2.125,"v":0.27},{"x":2.875,"y":2.125,"v":0.25},{"x":3.125,"y":2.125,"v":0.2},{"x":3.375,"y":2.125,"v":0.22},{"x":3.625,"y":2.125,"v":0.28},{"x":3.875,"y":2.125,"v":0.31},{"x":4.125,"y":2.125,"v":0.3},{"x":4.375,"y":2.125,"v":0.31},{"x":4.625,"y":2.125,"v":0.35},{"x":4.875,"y":2.125,"v":0.34},{"x":5.125,"y":2.125,"v":0.3},{"x":5.375,"y":2.125,"v":0.4},{"x":5.625,"y":2.125,"v":0.46},{"x":5.875,"y":2.125,"v":0.46},{"x":6.125,"y":2.125,"v":0.32},{"x":6.375,"y":2.125,"v":0.22},{"x":6.625,"y":2.125,"v":0.03},{"x":6.875,"y":2.125,"v":0.28},{"x":7.125,"y":2.125,"v":0.5},{"x":7.375,"y":2.125,"v":0.56},{"x":7.625,"y":2.125,"v":0.49},{"x":7.875,"y":2.125,"v":0.24},{"x":8.125,"y":2.125,"v":0.28},{"x":8.375,"y":2.125,"v":0.28},{"x":8.625,"y":2.125,"v":0.38},{"x":8.875,"y":2.125,"v":0.56},{"x":9.125,"y":2.125,"v":0.49},{"x":9.375,"y":2.125,"v":0.34},{"x":9.625,"y":2.125,"v":0.27},{"x":9.875,"y":2.125,"v":0.41},
{"x":0.125,"y":1.875,"v":0.2},{"x":0.375,"y":1.875,"v":0.12},{"x":0.625,"y":1.875,"v":0.18},{"x":0.875,"y":1.875,"v":0.31},{"x":1.125,"y":1.875,"v":0.38},{"x":1.375,"y":1.875,"v":0.32},{"x":1.625,"y":1.875,"v":0.22},{"x":1.875,"y":1.875,"v":0.25},{"x":2.125,"y":1.875,"v":0.3},{"x":2.375,"y":1.875,"v":0.29},{"x":2.625,"y":1.875,"v":0.2},{"x":2.875,"y":1.875,"v":0.22},{"x":3.125,"y":1.875,"v":0.27},{"x":3.375,"y":1.875,"v":0.33},{"x":3.625,"y":1.875,"v":0.41},{"x":3.875,"y":1.875,"v":0.36},{"x":4.125,"y":1.875,"v":0.3},{"x":4.375,"y":1.875,"v":0.39},{"x":4.625,"y":1.875,"v":0.47},{"x":4.875,"y":1.875,"v":0.55},{"x":5.125,"y":1.875,"v":0.53},{"x":5.375,"y":1.875,"v":0.55},{"x":5.625,"y":1.875,"v":0.42},{"x":5.875,"y":1.875,"v":0.23},{"x":6.125,"y":1.875,"v":0.05},{"x":6.375,"y":1.875,"v":0.29},{"x":6.625,"y":1.875,"v":0.45},{"x":6.875,"y":1.875,"v":0.5},{"x":7.125,"y":1.875,"v":0.56},{"x":7.375,"y":1.875,"v":0.53},{"x":7.625,"y":1.875,"v":0.37},{"x":7.875,"y":1.875,"v":0.23},{"x":8.125,"y":1.875,"v":0.17},{"x":8.375,"y":1.875,"v":0.37},{"x":8.625,"y":1.875,"v":0.55},{"x":8.875,"y":1.875,"v":0.5},{"x":9.125,"y":1.875,"v":0.23},{"x":9.375,"y":1.875,"v":0.46},{"x":9.625,"y":1.875,"v":0.45},{"x":9.875,"y":1.875,"v":0.4},
{"x":0.125,"y":1.625,"v":0.37},{"x":0.375,"y":1.625,"v":0.26},{"x":0.625,"y":1.625,"v":0.03},{"x":0.875,"y":1.625,"v":0.22},{"x":1.125,"y":1.625,"v":0.29},{"x":1.375,"y":1.625,"v":0.29},{"x":1.625,"y":1.625,"v":0.18},{"x":1.875,"y":1.625,"v":0.18},{"x":2.125,"y":1.625,"v":0.28},{"x":2.375,"y":1.625,"v":0.28},{"x":2.625,"y":1.625,"v":0.28},{"x":2.875,"y":1.625,"v":0.25},{"x":3.125,"y":1.625,"v":0.29},{"x":3.375,"y":1.625,"v":0.36},{"x":3.625,"y":1.625,"v":0.42},{"x":3.875,"y":1.625,"v":0.47},{"x":4.125,"y":1.625,"v":0.47},{"x":4.375,"y":1.625,"v":0.47},{"x":4.625,"y":1.625,"v":0.5},{"x":4.875,"y":1.625,"v":0.47},{"x":5.125,"y":1.625,"v":0.41},{"x":5.375,"y":1.625,"v":0.29},{"x":5.625,"y":1.625,"v":0.08},{"x":5.875,"y":1.625,"v":0.17},{"x":6.125,"y":1.625,"v":0.33},{"x":6.375,"y":1.625,"v":0.44},{"x":6.625,"y":1.625,"v":0.48},{"x":6.875,"y":1.625,"v":0.53},{"x":7.125,"y":1.625,"v":0.62},{"x":7.375,"y":1.625,"v":0.47},{"x":7.625,"y":1.625,"v":0.2},{"x":7.875,"y":1.625,"v":0.2},{"x":8.125,"y":1.625,"v":0.46},{"x":8.375,"y":1.625,"v":0.45},{"x":8.625,"y":1.625,"v":0.39},{"x":8.875,"y":1.625,"v":0.29},{"x":9.125,"y":1.625,"v":0.28},{"x":9.375,"y":1.625,"v":0.45},{"x":9.625,"y":1.625,"v":0.5},{"x":9.875,"y":1.625,"v":0.33},
{"x":0.125,"y":1.375,"v":0.36},{"x":0.375,"y":1.375,"v":0.24},{"x":0.625,"y":1.375,"v":0.05},{"x":0.875,"y":1.375,"v":0.18},{"x":1.125,"y":1.375,"v":0.26},{"x":1.375,"y":1.375,"v":0.26},{"x":1.625,"y":1.375,"v":0.17},{"x":1.875,"y":1.375,"v":0.2},{"x":2.125,"y":1.375,"v":0.33},{"x":2.375,"y":1.375,"v":0.41},{"x":2.625,"y":1.375,"v":0.38},{"x":2.875,"y":1.375,"v":0.33},{"x":3.125,"y":1.375,"v":0.35},{"x":3.375,"y":1.375,"v":0.45},{"x":3.625,"y":1.375,"v":0.56},{"x":3.875,"y":1.375,"v":0.63},{"x":4.125,"y":1.375,"v":0.56},{"x":4.375,"y":1.375,"v":0.44},{"x":4.625,"y":1.375,"v":0.26},{"x":4.875,"y":1.375,"v":0.17},{"x":5.125,"y":1.375,"v":0.04},{"x":5.375,"y":1.375,"v":0.06},{"x":5.625,"y":1.375,"v":0.24},{"x":5.875,"y":1.375,"v":0.34},{"x":6.125,"y":1.375,"v":0.47},{"x":6.375,"y":1.375,"v":0.51},{"x":6.625,"y":1.375,"v":0.53},{"x":6.875,"y":1.375,"v":0.5},{"x":7.125,"y":1.375,"v":0.37},{"x":7.375,"y":1.375,"v":0.17},{"x":7.625,"y":1.375,"v":0.27},{"x":7.875,"y":1.375,"v":0.5},{"x":8.125,"y":1.375,"v":0.51},{"x":8.375,"y":1.375,"v":0.4},{"x":8.625,"y":1.375,"v":0.31},{"x":8.875,"y":1.375,"v":0.2},{"x":9.125,"y":1.375,"v":0.36},{"x":9.375,"y":1.375,"v":0.51},{"x":9.625,"y":1.375,"v":0.33},{"x":9.875,"y":1.375,"v":0.28},
{"x":0.125,"y":1.125,"v":0.31},{"x":0.375,"y":1.125,"v":0.24},{"x":0.625,"y":1.125,"v":0.06},{"x":0.875,"y":1.125,"v":0.2},{"x":1.125,"y":1.125,"v":0.31},{"x":1.375,"y":1.125,"v":0.31},{"x":1.625,"y":1.125,"v":0.22},{"x":1.875,"y":1.125,"v":0.17},{"x":2.125,"y":1.125,"v":0.23},{"x":2.375,"y":1.125,"v":0.41},{"x":2.625,"y":1.125,"v":0.49},{"x":2.875,"y":1.125,"v":0.48},{"x":3.125,"y":1.125,"v":0.46},{"x":3.375,"y":1.125,"v":0.45},{"x":3.625,"y":1.125,"v":0.5},{"x":3.875,"y":1.125,"v":0.48},{"x":4.125,"y":1.125,"v":0.33},{"x":4.375,"y":1.125,"v":0.17},{"x":4.625,"y":1.125,"v":0.08},{"x":4.875,"y":1.125,"v":0.17},{"x":5.125,"y":1.125,"v":0.18},{"x":5.375,"y":1.125,"v":0.23},{"x":5.625,"y":1.125,"v":0.41},{"x":5.875,"y":1.125,"v":0.55},{"x":6.125,"y":1.125,"v":0.67},{"x":6.375,"y":1.125,"v":0.6},{"x":6.625,"y":1.125,"v":0.42},{"x":6.875,"y":1.125,"v":0.2},{"x":7.125,"y":1.125,"v":0.19},{"x":7.375,"y":1.125,"v":0.36},{"x":7.625,"y":1.125,"v":0.5},{"x":7.875,"y":1.125,"v":0.67},{"x":8.125,"y":1.125,"v":0.56},{"x":8.375,"y":1.125,"v":0.38},{"x":8.625,"y":1.125,"v":0.2},{"x":8.875,"y":1.125,"v":0.31},{"x":9.125,"y":1.125,"v":0.42},{"x":9.375,"y":1.125,"v":0.42},{"x":9.625,"y":1.125,"v":0.2},{"x":9.875,"y":1.125,"v":0.28},
{"x":0.125,"y":0.875,"v":0.34},{"x":0.375,"y":0.875,"v":0.28},{"x":0.625,"y":0.875,"v":0.14},{"x":0.875,"y":0.875,"v":0.17},{"x":1.125,"y":0.875,"v":0.31},{"x":1.375,"y":0.875,"v":0.41},{"x":1.625,"y":0.875,"v":0.38},{"x":1.875,"y":0.875,"v":0.28},{"x":2.125,"y":0.875,"v":0.28},{"x":2.375,"y":0.875,"v":0.44},{"x":2.625,"y":0.875,"v":0.56},{"x":2.875,"y":0.875,"v":0.58},{"x":3.125,"y":0.875,"v":0.42},{"x":3.375,"y":0.875,"v":0.27},{"x":3.625,"y":0.875,"v":0.2},{"x":3.875,"y":0.875,"v":0.2},{"x":4.125,"y":0.875,"v":0.07},{"x":4.375,"y":0.875,"v":0.13},{"x":4.625,"y":0.875,"v":0.25},{"x":4.875,"y":0.875,"v":0.29},{"x":5.125,"y":0.875,"v":0.39},{"x":5.375,"y":0.875,"v":0.48},{"x":5.625,"y":0.875,"v":0.66},{"x":5.875,"y":0.875,"v":0.74},{"x":6.125,"y":0.875,"v":0.62},{"x":6.375,"y":0.875,"v":0.38},{"x":6.625,"y":0.875,"v":0.15},{"x":6.875,"y":0.875,"v":0.27},{"x":7.125,"y":0.875,"v":0.41},{"x":7.375,"y":0.875,"v":0.53},{"x":7.625,"y":0.875,"v":0.66},{"x":7.875,"y":0.875,"v":0.67},{"x":8.125,"y":0.875,"v":0.46},{"x":8.375,"y":0.875,"v":0.18},{"x":8.625,"y":0.875,"v":0.38},{"x":8.875,"y":0.875,"v":0.47},{"x":9.125,"y":0.875,"v":0.41},{"x":9.375,"y":0.875,"v":0.33},{"x":9.625,"y":0.875,"v":0.25},{"x":9.875,"y":0.875,"v":0.28},
{"x":0.125,"y":0.625,"v":0.4},{"x":0.375,"y":0.625,"v":0.36},{"x":0.625,"y":0.625,"v":0.23},{"x":0.875,"y":0.625,"v":0.02},{"x":1.125,"y":0.625,"v":0.28},{"x":1.375,"y":0.625,"v":0.48},{"x":1.625,"y":0.625,"v":0.55},{"x":1.875,"y":0.625,"v":0.46},{"x":2.125,"y":0.625,"v":0.3},{"x":2.375,"y":0.625,"v":0.37},{"x":2.625,"y":0.625,"v":0.47},{"x":2.875,"y":0.625,"v":0.46},{"x":3.125,"y":0.625,"v":0.3},{"x":3.375,"y":0.625,"v":0.15},{"x":3.625,"y":0.625,"v":0.1},{"x":3.875,"y":0.625,"v":0.15},{"x":4.125,"y":0.625,"v":0.22},{"x":4.375,"y":0.625,"v":0.3},{"x":4.625,"y":0.625,"v":0.39},{"x":4.875,"y":0.625,"v":0.5},{"x":5.125,"y":0.625,"v":0.57},{"x":5.375,"y":0.625,"v":0.6},{"x":5.625,"y":0.625,"v":0.62},{"x":5.875,"y":0.625,"v":0.5},{"x":6.125,"y":0.625,"v":0.35},{"x":6.375,"y":0.625,"v":0.17},{"x":6.625,"y":0.625,"v":0.27},{"x":6.875,"y":0.625,"v":0.45},{"x":7.125,"y":0.625,"v":0.53},{"x":7.375,"y":0.625,"v":0.65},{"x":7.625,"y":0.625,"v":0.57},{"x":7.875,"y":0.625,"v":0.42},{"x":8.125,"y":0.625,"v":0.17},{"x":8.375,"y":0.625,"v":0.38},{"x":8.625,"y":0.625,"v":0.6},{"x":8.875,"y":0.625,"v":0.5},{"x":9.125,"y":0.625,"v":0.35},{"x":9.375,"y":0.625,"v":0.29},{"x":9.625,"y":0.625,"v":0.28},{"x":9.875,"y":0.625,"v":0.31},
{"x":0.125,"y":0.375,"v":0.38},{"x":0.375,"y":0.375,"v":0.46},{"x":0.625,"y":0.375,"v":0.38},{"x":0.875,"y":0.375,"v":0.19},{"x":1.125,"y":0.375,"v":0.2},{"x":1.375,"y":0.375,"v":0.47},{"x":1.625,"y":0.375,"v":0.56},{"x":1.875,"y":0.375,"v":0.47},{"x":2.125,"y":0.375,"v":0.24},{"x":2.375,"y":0.375,"v":0.17},{"x":2.625,"y":0.375,"v":0.23},{"x":2.875,"y":0.375,"v":0.22},{"x":3.125,"y":0.375,"v":0.13},{"x":3.375,"y":0.375,"v":0.14},{"x":3.625,"y":0.375,"v":0.23},{"x":3.875,"y":0.375,"v":0.28},{"x":4.125,"y":0.375,"v":0.4},{"x":4.375,"y":0.375,"v":0.5},{"x":4.625,"y":0.375,"v":0.65},{"x":4.875,"y":0.375,"v":0.68},{"x":5.125,"y":0.375,"v":0.55},{"x":5.375,"y":0.375,"v":0.46},{"x":5.625,"y":0.375,"v":0.33},{"x":5.875,"y":0.375,"v":0.23},{"x":6.125,"y":0.375,"v":0.08},{"x":6.375,"y":0.375,"v":0.2},{"x":6.625,"y":0.375,"v":0.38},{"x":6.875,"y":0.375,"v":0.54},{"x":7.125,"y":0.375,"v":0.63},{"x":7.375,"y":0.375,"v":0.48},{"x":7.625,"y":0.375,"v":0.29},{"x":7.875,"y":0.375,"v":0.18},{"x":8.125,"y":0.375,"v":0.4},{"x":8.375,"y":0.375,"v":0.62},{"x":8.625,"y":0.375,"v":0.62},{"x":8.875,"y":0.375,"v":0.41},{"x":9.125,"y":0.375,"v":0.28},{"x":9.375,"y":0.375,"v":0.3},{"x":9.625,"y":0.375,"v":0.36},{"x":9.875,"y":0.375,"v":0.36},
{"x":0.125,"y":0.125,"v":0.33},{"x":0.375,"y":0.125,"v":0.5},{"x":0.625,"y":0.125,"v":0.49},{"x":0.875,"y":0.125,"v":0.32},{"x":1.125,"y":0.125,"v":0.01},{"x":1.375,"y":0.125,"v":0.29},{"x":1.625,"y":0.125,"v":0.44},{"x":1.875,"y":0.125,"v":0.37},{"x":2.125,"y":0.125,"v":0.2},{"x":2.375,"y":0.125,"v":0.17},{"x":2.625,"y":0.125,"v":0.2},{"x":2.875,"y":0.125,"v":0.18},{"x":3.125,"y":0.125,"v":0.18},{"x":3.375,"y":0.125,"v":0.23},{"x":3.625,"y":0.125,"v":0.35},{"x":3.875,"y":0.125,"v":0.45},{"x":4.125,"y":0.125,"v":0.55},{"x":4.375,"y":0.125,"v":0.66},{"x":4.625,"y":0.125,"v":0.67},{"x":4.875,"y":0.125,"v":0.5},{"x":5.125,"y":0.125,"v":0.38},{"x":5.375,"y":0.125,"v":0.26},{"x":5.625,"y":0.125,"v":0.18},{"x":5.875,"y":0.125,"v":0.17},{"x":6.125,"y":0.125,"v":0.25},{"x":6.375,"y":0.125,"v":0.38},{"x":6.625,"y":0.125,"v":0.51},{"x":6.875,"y":0.125,"v":0.59},{"x":7.125,"y":0.125,"v":0.49},{"x":7.375,"y":0.125,"v":0.25},{"x":7.625,"y":0.125,"v":0.2},{"x":7.875,"y":0.125,"v":0.42},{"x":8.125,"y":0.125,"v":0.56},{"x":8.375,"y":0.125,"v":0.45},{"x":8.625,"y":0.125,"v":0.26},{"x":8.875,"y":0.125,"v":0.28},{"x":9.125,"y":0.125,"v":0.38},{"x":9.375,"y":0.125,"v":0.4},{"x":9.625,"y":0.125,"v":0.4},{"x":9.875,"y":0.125,"v":0.4}
]},"mark":{"type":"rect","width":14.08,"height":14.88,"stroke":"#000000","strokeWidth":1.4},"encoding":{"x":{"field":"x","type":"quantitative","scale":{"domain":[0,10],"nice":false},"axis":{"title":"x(lamda)","titleFontSize":20,"titleFontWeight":"normal","titleColor":"#333333","titlePadding":9,"values":[0,2,4,6,8,10],"format":"d","grid":false,"domain":false,"ticks":false,"labelFontSize":19,"labelColor":"#333333","labelPadding":6,"labelFlush":false}},"y":{"field":"y","type":"quantitative","scale":{"domain":[0,10],"nice":false},"axis":{"title":"y(lamda)","titleFontSize":20,"titleFontWeight":"normal","titleColor":"#333333","titlePadding":6,"values":[0,1,2,3,4,5,6,7,8,9,10],"format":"d","grid":false,"domain":false,"ticks":false,"labelFontSize":19,"labelColor":"#333333","labelPadding":3,"labelFlush":false}},"color":{"field":"v","type":"quantitative","legend":null,"scale":{"domain":[0.02,0.05,0.08,0.13,0.17,0.2,0.25,0.3,0.35,0.4,0.45,0.5,0.55,0.6,0.65,0.7,0.75,0.8,0.85,0.9,0.95,1],"range":["#ffffff","#fafaec","#f5f5d5","#e8e8a0","#e5df70","#e8d63f","#e9c01a","#e2a800","#de8e00","#ea7700","#fa5512","#ff3d28","#dc3450","#bb3268","#95308a","#6c2aa8","#4a20b8","#3322b0","#262a8c","#1e2560","#101528","#000000"]}}}},
{"width":53,"height":595,"view":{"stroke":"#222222","strokeWidth":2},"data":{"values":[{"v":0.02},{"v":0.035},{"v":0.05},{"v":0.065},{"v":0.08},{"v":0.095},{"v":0.11},{"v":0.125},{"v":0.14},{"v":0.155},{"v":0.17},{"v":0.185},{"v":0.2},{"v":0.215},{"v":0.23},{"v":0.245},{"v":0.26},{"v":0.275},{"v":0.29},{"v":0.305},{"v":0.32},{"v":0.335},{"v":0.35},{"v":0.365},{"v":0.38},{"v":0.395},{"v":0.41},{"v":0.425},{"v":0.44},{"v":0.455},{"v":0.47},{"v":0.485},{"v":0.5},{"v":0.515},{"v":0.53},{"v":0.545},{"v":0.56},{"v":0.575},{"v":0.59},{"v":0.605},{"v":0.62},{"v":0.635},{"v":0.65},{"v":0.665},{"v":0.68},{"v":0.695},{"v":0.71},{"v":0.725},{"v":0.74},{"v":0.755},{"v":0.77},{"v":0.785},{"v":0.8},{"v":0.815},{"v":0.83},{"v":0.845},{"v":0.86},{"v":0.875},{"v":0.89},{"v":0.905},{"v":0.92},{"v":0.935},{"v":0.95},{"v":0.965},{"v":0.98},{"v":0.995}]},"mark":{"type":"rect","height":9.6,"clip":true},"encoding":{"y":{"field":"v","type":"quantitative","scale":{"domain":[0.013,1],"nice":false},"axis":{"title":null,"orient":"right","zindex":1,"values":[0.1,0.2,0.3,0.4,0.5,0.6,0.7,0.8,0.9,1],"format":"~g","grid":true,"gridColor":"#111111","gridWidth":1.5,"gridDash":[7,39,7],"ticks":false,"tickSize":0,"domain":true,"domainColor":"#111111","domainWidth":1.5,"labelFontSize":14,"labelColor":"#333333","labelPadding":3,"labelFlush":false}},"color":{"field":"v","type":"quantitative","legend":null,"scale":{"domain":[0.02,0.05,0.08,0.13,0.17,0.2,0.25,0.3,0.35,0.4,0.45,0.5,0.55,0.6,0.65,0.7,0.75,0.8,0.85,0.9,0.95,1],"range":["#ffffff","#fafaec","#f5f5d5","#e8e8a0","#e5df70","#e8d63f","#e9c01a","#e2a800","#de8e00","#ea7700","#fa5512","#ff3d28","#dc3450","#bb3268","#95308a","#6c2aa8","#4a20b8","#3322b0","#262a8c","#1e2560","#101528","#000000"]}}}}],"resolve":{"scale":{"color":"independent"}}}
